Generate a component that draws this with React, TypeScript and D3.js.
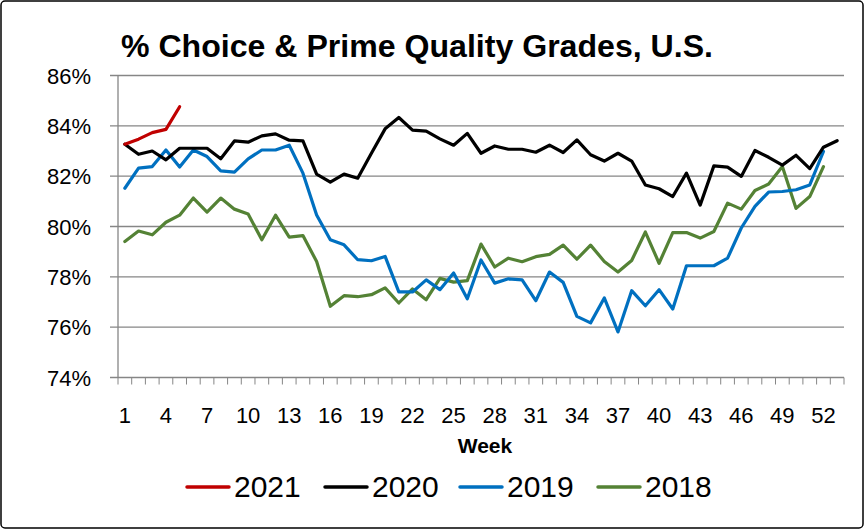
import React from "react";
import * as d3 from "d3";

const weeks = d3.range(1, 54);
const tickWeeks = [1, 4, 7, 10, 13, 16, 19, 22, 25, 28, 31, 34, 37, 40, 43, 46, 49, 52];
const yTicks = [74, 76, 78, 80, 82, 84, 86];

const s2021 = [83.27, 83.47, 83.73, 83.86, 84.76];
const s2020 = [83.27, 82.87, 83.0, 82.65, 83.11, 83.11, 83.11, 82.69, 83.4, 83.35, 83.6, 83.68, 83.43, 83.4, 82.08, 81.76, 82.08, 81.92, 82.91, 83.88, 84.33, 83.83, 83.79, 83.48, 83.23, 83.7, 82.91, 83.2, 83.07, 83.07, 82.95, 83.23, 82.94, 83.44, 82.85, 82.6, 82.91, 82.6, 81.65, 81.5, 81.19, 82.12, 80.85, 82.41, 82.36, 81.99, 83.02, 82.75, 82.44, 82.83, 82.3, 83.15, 83.41];
const s2019 = [81.52, 82.32, 82.38, 83.04, 82.36, 83.04, 82.78, 82.21, 82.16, 82.69, 83.04, 83.04, 83.23, 82.12, 80.46, 79.47, 79.27, 78.68, 78.64, 78.81, 77.4, 77.4, 77.88, 77.49, 78.15, 77.13, 78.67, 77.75, 77.92, 77.88, 77.05, 78.19, 77.78, 76.43, 76.17, 77.16, 75.81, 77.45, 76.85, 77.49, 76.72, 78.44, 78.44, 78.44, 78.74, 79.94, 80.8, 81.37, 81.39, 81.46, 81.65, 82.98];
const s2018 = [79.4, 79.82, 79.67, 80.17, 80.45, 81.13, 80.57, 81.13, 80.69, 80.5, 79.47, 80.45, 79.58, 79.64, 78.61, 76.83, 77.25, 77.21, 77.29, 77.56, 76.96, 77.52, 77.09, 77.94, 77.79, 77.85, 79.3, 78.39, 78.74, 78.6, 78.8, 78.89, 79.26, 78.7, 79.26, 78.61, 78.19, 78.65, 79.78, 78.54, 79.76, 79.76, 79.54, 79.8, 80.93, 80.69, 81.43, 81.69, 82.38, 80.72, 81.19, 82.38];

const seriesNames = ["2021", "2020", "2019", "2018"];
const seriesData = [s2021, s2020, s2019, s2018];
const seriesColors = ["#C00000", "#000000", "#0070C0", "#548235"];

const W = 864;
const H = 529;
const left = 118;
const right = 844;
const top = 75.5;
const bottom = 377.5;
const font = "'Liberation Sans', Arial, sans-serif";

export default function App() {
  const x = d3.scaleBand<number>().domain(weeks).range([left, right]).padding(0);
  const y = d3.scaleLinear().domain([74, 86]).range([bottom, top]);
  const cx = (w: number) => (x(w) as number) + x.bandwidth() / 2;
  const line = d3
    .line<number>()
    .x((_, i) => cx(i + 1))
    .y((v) => y(v));

  const boundaries = d3.range(0, weeks.length + 1).map((i) => left + i * x.bandwidth());
  const legendX = [187, 325, 460, 598];

  return (
    <svg
      width={W}
      height={H}
      style={{ position: "absolute", left: 0, top: 0, background: "#fff" }}
    >
      <rect x={1} y={1} width={W - 2} height={H - 2} rx={4} fill="#fff" stroke="#000" strokeWidth={1.5} />
      <text
        x={121}
        y={57}
        fontFamily={font}
        fontWeight="bold"
        fontSize={31}
        textLength={592}
        lengthAdjust="spacingAndGlyphs"
        fill="#000"
      >
        % Choice &amp; Prime Quality Grades, U.S.
      </text>

      {yTicks.map((t) => (
        <g key={t}>
          <line x1={110} x2={right} y1={y(t)} y2={y(t)} stroke="#868686" strokeWidth={1.3} />
          <text
            x={91}
            y={y(t) + 8}
            textAnchor="end"
            fontFamily={font}
            fontSize={22}
            fill="#000"
          >
            {t}%
          </text>
        </g>
      ))}
      <line x1={left} x2={left} y1={top} y2={bottom} stroke="#868686" strokeWidth={1.3} />
      {boundaries.map((b, i) => (
        <line key={i} x1={b} x2={b} y1={bottom} y2={bottom + 7} stroke="#868686" strokeWidth={1} />
      ))}
      {tickWeeks.map((w) => (
        <text
          key={w}
          x={cx(w)}
          y={423}
          textAnchor="middle"
          fontFamily={font}
          fontSize={22}
          fill="#000"
        >
          {w}
        </text>
      ))}
      <text x={485} y={453} textAnchor="middle" fontFamily={font} fontWeight="bold" fontSize={21} fill="#000">
        Week
      </text>

      {[3, 2, 1, 0].map((k) => (
        <path
          key={seriesNames[k]}
          d={line(seriesData[k]) || ""}
          fill="none"
          stroke={seriesColors[k]}
          strokeWidth={3.2}
          strokeLinejoin="round"
          strokeLinecap="round"
        />
      ))}

      {seriesNames.map((n, k) => (
        <g key={n}>
          <line
            x1={legendX[k]}
            x2={legendX[k] + 42}
            y1={487}
            y2={487}
            stroke={seriesColors[k]}
            strokeWidth={3.5}
            strokeLinecap="round"
          />
          <text x={legendX[k] + 47} y={497} fontFamily={font} fontSize={30} fill="#000">
            {n}
          </text>
        </g>
      ))}
    </svg>
  );
}
